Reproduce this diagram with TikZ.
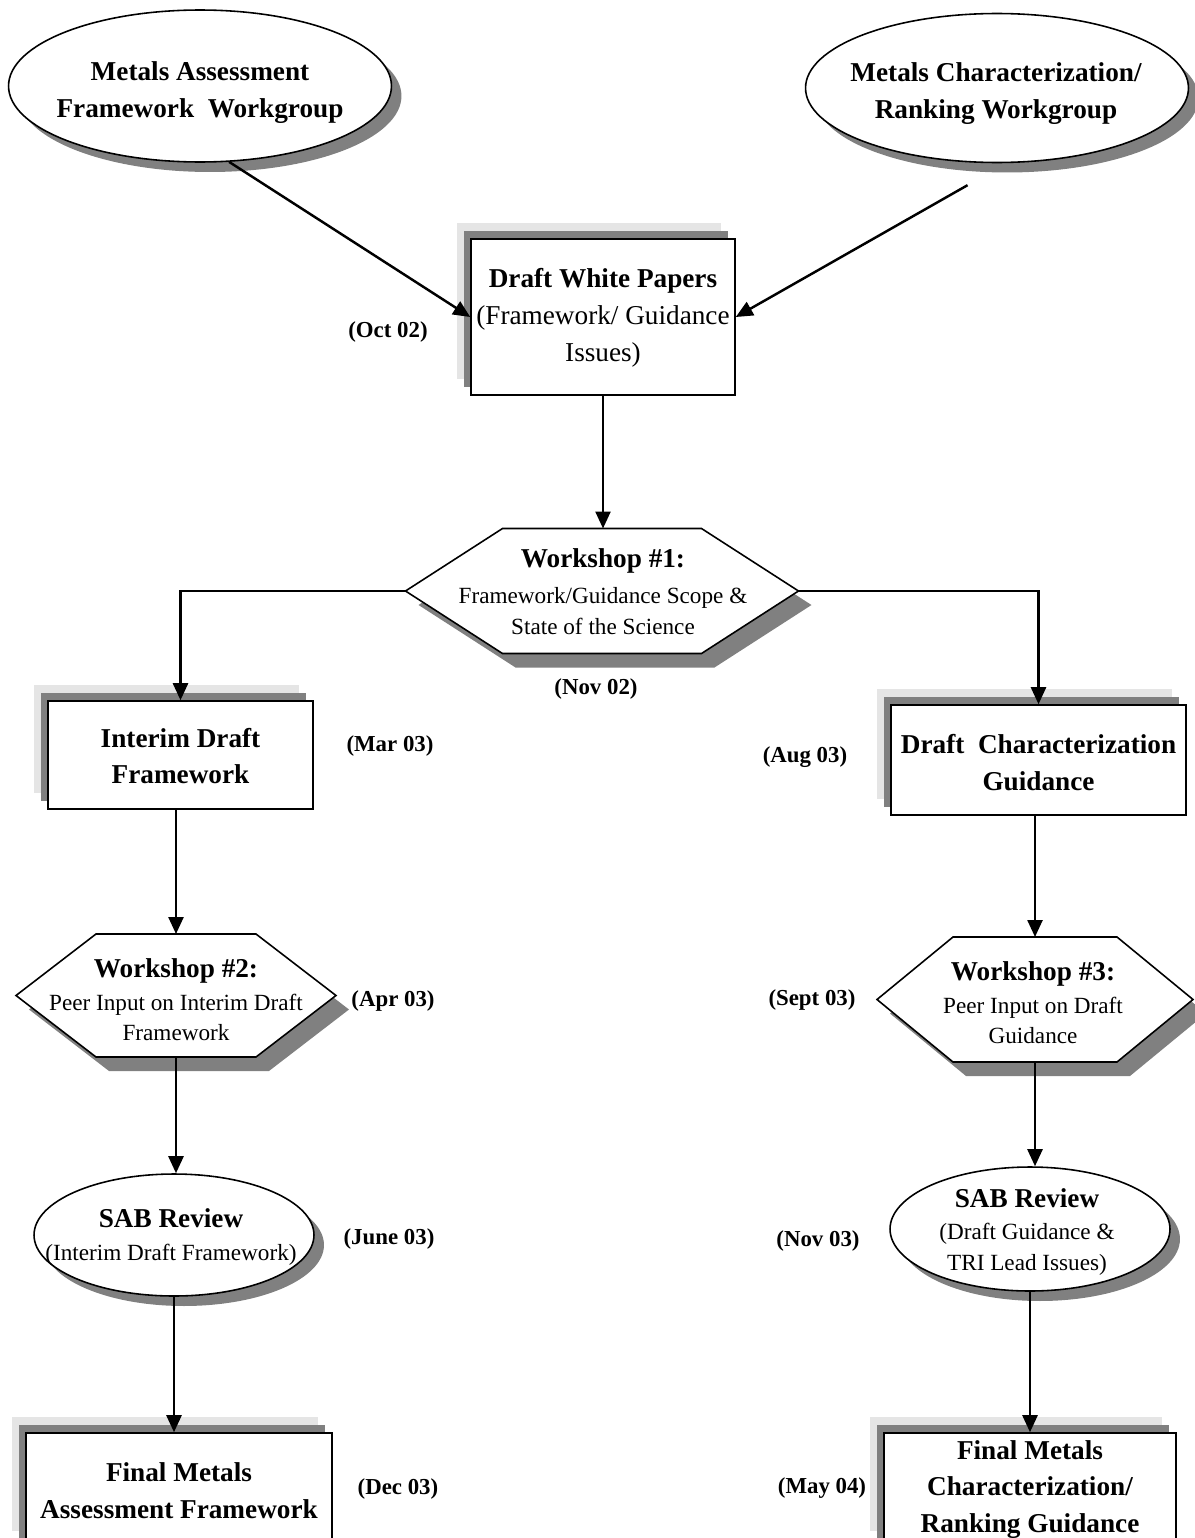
\documentclass[tikz,border=0pt]{standalone}
\usepackage{fontspec}
\setmainfont{Liberation Serif}
\usetikzlibrary{calc,shapes.geometric,shadows,arrows.meta}
\def\hexagon[#1](#2)(#3:#4:#5){\draw[#1] ($(#2)+(-#3,0)$) -- ($(#2)+(-#4,-#5)$) -- ($(#2)+(#4,-#5)$) -- ($(#2)+(#3,0)$) -- ($(#2)+(#4,#5)$) -- ($(#2)+(-#4,#5)$) -- cycle;}
\newcommand\wsfont{\fontsize{15.5}{21}\selectfont\bfseries}
\tikzset{
  hdr/.style={font=\fontsize{15.5}{21}\selectfont\bfseries, align=center},
  body/.style={font=\fontsize{13.2}{17.5}\selectfont, align=center},
  date/.style={font=\fontsize{13}{15}\selectfont\bfseries},
  wbox/.style={draw, fill=white, line width=0.9pt, inner sep=2pt,
    general shadow={fill=black!10, shadow xshift=-0.28cm, shadow yshift=0.32cm},
    general shadow={fill=black!50, shadow xshift=-0.14cm, shadow yshift=0.16cm}},
  woval/.style={ellipse, draw, fill=white, line width=0.9pt, inner sep=0pt,
    general shadow={fill=black!50, shadow xshift=0.2cm, shadow yshift=-0.2cm}},
  whex/.style={fill=white, line width=0.9pt,
    general shadow={fill=black!50, shadow xshift=0.26cm, shadow yshift=-0.28cm}},
  conn/.style={line width=1.4pt, -{Triangle[length=0.34cm,width=0.3cm]}}
}
\begin{document}
\begin{tikzpicture}[x=0.02cm, y=-0.02cm]
			\useasboundingbox (0,0) rectangle (1194,1538);
			%%%%% WORKGROUPS %%%%%
			\node[woval, minimum width=7.66cm, minimum height=3.04cm] (mafw) at (200,86) {};
			\node[hdr] (mafw-t) at (200,93) {Metals Assessment\\Framework~ Workgroup};
			\node[woval, minimum width=7.66cm, minimum height=2.98cm] (mcrw) at (997,88) {};
			\node[hdr] (mcrw-t) at (996,93.5) {Metals Characterization/\\Ranking Workgroup};
			
			\node[wbox, hdr, minimum width=5.28cm, minimum height=3.12cm] (dwp) at (603,317) {};
			\node[hdr] (dwp-t) at (603,318) {Draft White Papers\\{\mdseries (Framework/ Guidance}\\{\mdseries Issues)}};
			\node[date] (oct02) at (388,332) {(Oct 02)};
			
			%%%%% WORKSHOP 1 %%%%%
			\hexagon[whex](602,591)(196.5:99.5:62.5);
			\coordinate (ws1-n) at (602,528.5);
			\coordinate (ws1-w) at (405.5,591);
			\coordinate (ws1-e) at (798.5,591);
			\node[body] (ws1-t) at (603,592) {{\wsfont Workshop \#1:}\\[3pt]Framework/Guidance Scope \&\\State of the Science};
			\node[date] (nov02) at (596,689) {(Nov 02)};
			
			%%%%% LEFT BRANCH %%%%%
			\node[wbox, hdr, minimum width=5.3cm, minimum height=2.16cm] (idf) at (180.5,755) {};
			\node[hdr] (idf-t) at (180.5,756) {Interim Draft\\Framework};
			\node[date] (mar03) at (390,746) {(Mar 03)};
			
			\hexagon[whex](176,995.5)(160:80:61.5);
			\coordinate (ws2-n) at (176,934);
			\coordinate (ws2-s) at (176,1057);
			\node[body] (ws2-t) at (176,1000) {{\wsfont Workshop \#2:}\\[1pt]Peer Input on Interim Draft\\Framework};
			\node[date] (apr03) at (393,1001) {(Apr 03)};
			
			\node[woval, minimum width=5.6cm, minimum height=2.44cm] (sab1) at (174,1235) {};
			\node[body] (sab1-t) at (171,1237) {{\wsfont SAB Review}\\[1pt](Interim Draft Framework)};
			\node[date] (jun03) at (389,1239) {(June 03)};
			
			\node[wbox, minimum width=6.12cm, minimum height=2.28cm] (fmaf) at (179,1490) {};
			\node[hdr] (fmaf-t) at (179,1490.5) {Final Metals\\Assessment Framework};
			\node[date] (dec03) at (398,1489) {(Dec 03)};
			
			%%%%% RIGHT BRANCH %%%%%
			\node[wbox, minimum width=5.9cm, minimum height=2.2cm] (dcg) at (1038.5,760) {};
			\node[hdr] (dcg-t) at (1038.5,763) {Draft~ Characterization\\Guidance};
			\node[date] (aug03) at (805,757) {(Aug 03)};
			
			\hexagon[whex](1035,999.5)(158:82:62.5);
			\coordinate (ws3-n) at (1035,937);
			\coordinate (ws3-s) at (1035,1062);
			\node[body] (ws3-t) at (1033,1003) {{\wsfont Workshop \#3:}\\[1pt]Peer Input on Draft\\Guidance};
			\node[date] (sep03) at (812,1000) {(Sept 03)};
			
			\node[woval, minimum width=5.6cm, minimum height=2.48cm] (sab2) at (1030,1229) {};
			\node[body] (sab2-t) at (1027,1232) {{\wsfont SAB Review}\\[1pt](Draft Guidance \&\\TRI Lead Issues)};
			\node[date] (nov03) at (818,1241) {(Nov 03)};
			
			\node[wbox, minimum width=5.84cm, minimum height=2.28cm] (fmcr) at (1030,1490) {};
			\node[hdr] (fmcr-t) at (1030,1489.5) {Final Metals\\Characterization/\\Ranking Guidance};
			\node[date] (may04) at (822,1488) {(May 04)};
			
			%%%%% CONNECTORS %%%%%
			\draw[conn] (mafw.-69) -- (dwp.west);
			\draw[conn, shorten <=0.89cm] (mcrw.-83) -- (dwp.east);
			\draw[conn] (dwp.south) -- (dwp.south |- ws1-n);
			\draw[conn] (ws1-w) -| (idf.north);
			\draw[conn] (ws1-e) -| (dcg.north);
			\draw[conn] (idf.south -| ws2-n) -- (ws2-n);
			\draw[conn] (ws2-s) -- (ws2-s |- sab1.north);
			\draw[conn] (sab1.south) -- (sab1.south |- fmaf.north);
			\draw[conn] (dcg.south -| ws3-n) -- (ws3-n);
			\draw[conn] (ws3-s) -- (ws3-s |- sab2.north);
			\draw[conn] (sab2.south) -- (sab2.south |- fmcr.north);
\end{tikzpicture}
\end{document}
